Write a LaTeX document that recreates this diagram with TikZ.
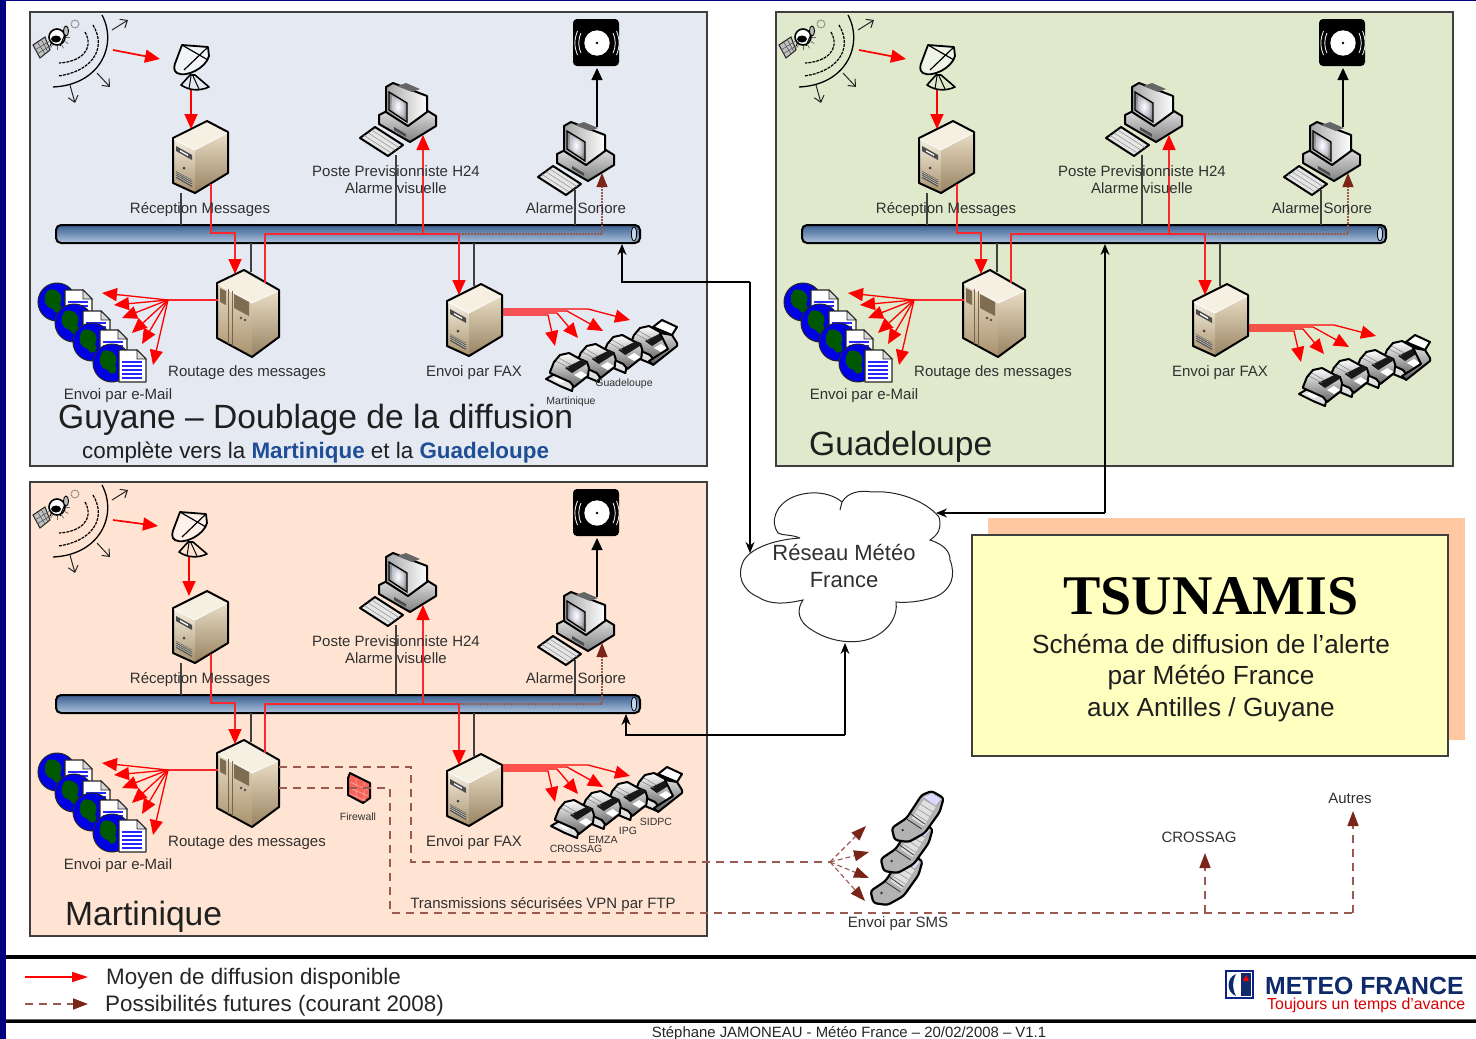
\documentclass[tikz,border=0pt]{standalone}
\usepackage{fontspec}
\setmainfont{Liberation Sans}
\newfontfamily\serifbold{Liberation Serif}
\usetikzlibrary{arrows.meta,shapes.geometric,calc}
\definecolor{navybar}{HTML}{000080}
\definecolor{panelA}{HTML}{E5E9F1}
\definecolor{panelB}{HTML}{E1E9CD}
\definecolor{panelC}{HTML}{FFE4D3}
\definecolor{panelline}{HTML}{3F3F3F}
\definecolor{redline}{HTML}{F8282E}
\definecolor{brownline}{HTML}{9A5A50}
\definecolor{brownhead}{HTML}{7A2518}
\definecolor{labelgray}{HTML}{303030}
\definecolor{titleblue}{HTML}{1F4E96}
\definecolor{shadowor}{HTML}{FFC8A0}
\definecolor{boxyellow}{HTML}{FFFFC0}
\definecolor{tanA}{HTML}{F6F0E2}
\definecolor{tanB}{HTML}{EADEC6}
\definecolor{tanC}{HTML}{A8916C}
\definecolor{logonavy}{HTML}{0F2A6B}
\definecolor{busA}{HTML}{3A5F90}
\definecolor{busB}{HTML}{6E93C0}
\definecolor{busC}{HTML}{AEC4DE}
\definecolor{busD}{HTML}{C4D6EA}
\tikzset{
  panelbox/.style={draw=panelline,line width=1.4pt},
  wire/.style={draw=black!75,line width=1.2pt},
  redwire/.style={draw=redline,line width=1.5pt},
  redarrow/.style={draw=red,line width=1.7pt,-{Triangle[length=15pt,width=13pt]}},
  redthin/.style={draw=red,line width=1.3pt,-{Triangle[length=15pt,width=13pt]}},
  blackarrow/.style={draw=black,line width=1.1pt,-{Triangle[length=12pt,width=11pt]}},
  netarrow/.style={draw=black,line width=1.1pt,-{Stealth[length=11pt,width=9pt]}},
  dashbrown/.style={draw=brownline,line width=1.6pt,dash pattern=on 8pt off 6pt},
  dasharrow/.style={draw=brownline,line width=1.6pt,dash pattern=on 8pt off 6pt,-{Triangle[length=15pt,width=11pt,color=brownhead,fill=brownhead]}},
  dottedarrow/.style={draw=brownline,line width=1.2pt,dash pattern=on 2pt off 1pt,-{Triangle[length=14pt,width=11pt,color=brownhead,fill=brownhead]}},
  barb/.style={draw=black!85,line width=1pt,-{Straight Barb[length=6pt,width=10pt]}},
  lab/.style={text=labelgray,inner sep=0pt,anchor=base,font=\fontsize{15}{17}\selectfont,align=center},
  smalllab/.style={text=labelgray,inner sep=0pt,font=\fontsize{10.5}{12}\selectfont,align=center},
  bigtitle/.style={text=black!88,inner sep=0pt,anchor=west,font=\fontsize{33.6}{38}\selectfont},
  blk/.style={draw=black,line width=2pt,line join=round},
  pics/towersrv/.style={code={
    \fill[tanA] (0,17)--(34,0)--(55,11)--(22,29)--cycle;
    \shade[top color=tanA,bottom color=tanC] (0,17)--(22,29)--(22,72)--(0,62)--cycle;
    \shade[top color=tanB,bottom color=tanC!90!black] (22,29)--(55,11)--(55,52)--(22,72)--cycle;
    \draw[blk] (0,17)--(34,0)--(55,11)--(55,52)--(22,72)--(0,62)--cycle;
    \draw[white,line width=.8pt] (1,18)--(22,29)--(54,12);
    \fill[black!70] (3,25)--(19,34)--(19,39)--(3,30)--cycle;
    \fill[white] (7,29)--(15,33.5)--(15,35)--(7,30.5)--cycle;
    \fill[black!75] (11,47) circle (1.5);
    \fill[black!65] (3,50)--(19,59)--(19,66)--(3,57)--cycle;
    \foreach \k in {1,3,5}{\draw[tanB,line width=.4pt] (3,50+\k)--(19,59+\k);}
  }},
  pics/bigsrv/.style={code={
    \fill[tanA] (0,13)--(27,0)--(62,20)--(35,33)--cycle;
    \shade[top color=tanB,bottom color=tanC] (0,13)--(35,33)--(35,87)--(0,68)--cycle;
    \shade[top color=tanB,bottom color=tanC!90!black] (35,33)--(62,20)--(62,67)--(35,87)--cycle;
    \draw[blk] (0,13)--(27,0)--(62,20)--(62,67)--(35,87)--(0,68)--cycle;
    \draw[white,line width=.8pt] (1,14)--(35,33)--(61,21);
    \draw[tanC!70!black,line width=.6pt] (11,19)--(11,74) (15,21)--(15,76);
    \fill[tanC!75!black] (3,18)--(9,21)--(9,35)--(3,32)--cycle;
    \fill[tanC!75!black] (17,24)--(32,32)--(32,46)--(17,38)--cycle;
    \fill[black!70] (24,48) circle (1.4) (28,50) circle (1.4);
  }},
  pics/workst/.style={code={
    \fill[black!10,draw=black,line width=2pt,line join=round] (0,55)--(15,44)--(43,62)--(28,73)--cycle;
    \foreach \k in {.25,.5,.75}{\draw[black!45,line width=.5pt] ($(0,55)!\k!(15,44)$)--($(28,73)!\k!(43,62)$);}
    \shade[top color=white,bottom color=black!50,draw=black,line width=2pt,line join=round] (19,32)--(19,41)--(50,59)--(76,43)--(76,33)--(50,17)--cycle;
    \fill[black!70] (34,44)--(46,51)--(46,54)--(34,47)--cycle;
    \shade[left color=black!35,right color=white,draw=black,line width=2pt,line join=round] (26,4)--(33,0)--(67,13)--(67,29)--(48,43)--(26,29)--cycle;
    \fill[black!60] (37,3)--(52,9)--(60,6)--(46,0)--cycle;
    \shade[inner color=white,outer color=black!45,draw=black,line width=1.3pt] (29,9)--(47,20)--(47,39)--(29,27)--cycle;
    \shade[inner color=white,outer color=blue!25!black!25] (32,13)--(44,21)--(44,34)--(32,26)--cycle;
  }},
  pics/globedoc/.style={code={
    \fill[blue!90!black,draw=black!85,line width=1pt] (0,0) circle (19);
    \fill[green!35!black] (-9,-12) .. controls (0,-15) and (8,-6) .. (3,2) .. controls (8,9) and (-1,15) .. (-4,7) .. controls (-14,5) and (-14,-6) .. (-9,-12)--cycle;
    \fill[green!35!black] (6,9) .. controls (14,6) and (16,13) .. (8,17)--cycle;
  }},
  pics/docfront/.style={code={
    \fill[white,draw=black!85,line width=1.4pt,line join=round] (0,0)--(18,0)--(27,9)--(27,32)--(0,32)--cycle;
    \fill[black!15,draw=black!85,line width=.8pt] (18,0)--(18,9)--(27,9)--cycle;
    \foreach \k in {12,16,20,24,28}{\draw[blue!85!white,line width=1.2pt] (3,\k)--(23,\k);}
  }},
  pics/faxunit/.style={code={
    \fill[black!12,draw=black,line width=2pt,line join=round] (-4,19)--(6,13)--(24,22)--(22,31)--(10,26)--cycle;
    \fill[white] (3,19)--(10,16)--(18,20)--(11,23)--cycle;
    \shade[top color=white,bottom color=black!60,draw=black,line width=2pt,line join=round] (0,12)--(4,2)--(10,-5)--(19,-7)--(30,-1)--(37,2)--(39,8)--(38,16)--(24,27)--(20,22)--(0,13)--cycle;
    \fill[black!90] (15,8)--(33,-1)--(38,3)--(22,13)--cycle;
    \fill[white] (24,15)--(31,11)--(37,15)--(31,19)--cycle;
    \draw[black!50,line width=.5pt] (6,1)--(19,8) (9,-2)--(21,5);
  }},
  pics/faxroll/.style={code={
    \shade[top color=black!15,bottom color=black!65,draw=black,line width=2pt,line join=round] (30,0)--(42,2)--(47,10)--(47,13)--(23,32)--(19,28)--(38,16)--cycle;
    \fill[white,draw=black,line width=2pt,line join=round] (23,-6)--(32,-13)--(47,-6)--(42,2)--cycle;
  }},
  pics/phoneunit/.style={code={
    \fill[black!30,draw=black,line width=2.2pt,line join=round,rounded corners=3pt] (0,37)--(15,27)--(30,4)--(40,0)--(52,7)--(48,21)--(33,42)--(17,51)--(3,49)--cycle;
    \fill[black!12] (20,27)--(32,9)--(44,16)--(32,35)--cycle;
    \foreach \k in {.25,.5,.75}{\draw[black!45,line width=.5pt] ($(20,27)!\k!(32,9)$)--($(32,35)!\k!(44,16)$);}
    \draw[black!80,line width=.8pt] (15,28)--(30,38) (19,23)--(33,33);
    \fill[black!80] (11,39) circle (1.3);
    \fill[blue!14!white,draw=black!40,line width=.4pt] (31,6)--(40,2)--(50,8)--(44,15)--cycle;
  }},
}
\newcommand{\SiteShared}[5]{%
\begin{scope}[shift={#2},name prefix=#1-]
  % coordinates
  \coordinate (recvdown) at (181,193); \coordinate (recvbus) at (181,225);
  \coordinate (pcAdown) at (396,155); \coordinate (pcAbus) at (396,225);
  \coordinate (pcBdown) at (575,190); \coordinate (pcBbus) at (575,225);
  \coordinate (bigtop) at (251,272); \coordinate (bigbus) at (251,243);
  \coordinate (faxtop) at (474,286); \coordinate (faxbus) at (474,243);
  \coordinate (recvred) at (211,184); \coordinate (kneeA) at (211,233); \coordinate (kneeB) at (235,233);
  \coordinate (bigtip) at (235,274);
  \coordinate (bigred) at (265,283); \coordinate (kneeC) at (265,234);
  \coordinate (branchpc) at (423,234); \coordinate (pctip) at (423,135);
  \coordinate (branchfax) at (459,234); \coordinate (faxtip) at (459,295);
  \coordinate (kneeD) at (602,234); \coordinate (soundtip) at (602,173);
  \coordinate (spkbase) at (597,127); \coordinate (spktip) at (597,68);
  \coordinate (fanhub) at (168,300); \coordinate (bigleft) at (218,300);
  % bus
  \shade[top color=busA,middle color=busB,bottom color=busC,draw=black,line width=2pt,rounded corners=5pt]
    (56,225) rectangle (640,243);
  \fill[busD,draw=black,line width=.8pt] (634,234) ellipse (2.6 and 7);
  \draw[wire] (recvdown)--(recvbus) (pcAdown)--(pcAbus) (pcBdown)--(pcBbus) (bigtop)--(bigbus) (faxtop)--(faxbus);
  % satellite
  \fill[black!25,draw=black!85,line width=1pt] (33,45)--(45,37)--(50,50)--(40,58)--cycle;
  \draw[black!70,line width=.5pt] (37,41)--(45,54) (41,39)--(48,52) (35,50)--(48,42) (37,54)--(50,46);
  \fill[white,draw=black,line width=1.6pt] (57,37) circle (8);
  \fill[black] (56,39) ellipse (5 and 3.5);
  \fill[black!25,draw=black,line width=.9pt] (66,31) ellipse (2.5 and 5);
  \draw[black,line width=1pt] (50,46)--(52,42) (60,46)--(65,34);
  \draw[black!55,line width=1pt,dash pattern=on 1pt off .7pt] (75,24) circle (4);
  \foreach \a in {90,120,150,60,30,0}{\draw[black!60,line width=.7pt] (57,37)++(\a:13)--++(\a:-4);}
  \draw[black,line width=1.3pt] (102,15) .. controls (118,45) and (100,85) .. (53,87);
  \draw[black,line width=1.2pt,dash pattern=on 3pt off 1pt] (93,25) .. controls (108,50) and (90,72) .. (58,76);
  \draw[black,line width=1.2pt,dash pattern=on 3pt off 1pt] (85,32) .. controls (95,50) and (80,62) .. (59,63);
  \coordinate (satA) at (112,30); \coordinate (satAe) at (128,20);
  \coordinate (satB) at (97,73); \coordinate (satBe) at (110,87);
  \coordinate (satC) at (70,85); \coordinate (satCe) at (75,103);
  \draw[barb] (satA)--(satAe); \draw[barb] (satB)--(satBe); \draw[barb] (satC)--(satCe);
  \coordinate (satout) at (113,50);
  % dish
  \begin{scope}[shift={#3}]
    \coordinate (dishin) at (160,59);
    \coordinate (dishout) at (191,90);
    \coordinate (dishtip) at (191,129);
    \draw[black,line width=1.8pt,line join=round,fill=white,fill opacity=.5] (182,45)--(208,47)--(209,56) .. controls (206,68) and (186,78) .. (177,73) .. controls (173,71) and (174,65) .. (176,61)--cycle;
    \draw[black,line width=1.2pt] (182,45)--(208,60) (208,47)--(184,70);
    \draw[black,line width=1.6pt,line join=round] (190,75)--(181,85) .. controls (190,91) and (200,91) .. (209,87)--(195,75)--cycle;
    \draw[black,line width=1pt] (191,76)--(189,89) (193,76)--(199,89);
  \end{scope}
  % speaker
  \fill[black,rounded corners=4pt] (573,19) rectangle (619,66);
  \fill[white] (597,43) circle (12.7);
  \fill[black] (597,43) circle (1.3);
  \draw[white,line width=.8pt] (581,33) .. controls (578,40) and (578,46) .. (581,53) (613,33) .. controls (616,40) and (616,46) .. (613,53)
     (577.5,31) .. controls (574,40) and (574,46) .. (577.5,55) (616.5,31) .. controls (620,40) and (620,46) .. (616.5,55);
  % servers and stations
  \pic at (173,121) {towersrv};
  \pic at (447,284) {towersrv};
  \pic at (217,270) {bigsrv};
  \pic at (360,83) {workst};
  \pic at (538,122) {workst};
  % globes and documents
  \pic at (57,302) {globedoc}; \pic at (65,290) {docfront};
  \pic at (74,323) {globedoc}; \pic at (83,311) {docfront};
  \pic at (92,342) {globedoc}; \pic at (100,330) {docfront};
  \pic at (112,363) {globedoc}; \pic at (119,350) {docfront};
  % faxes
  \begin{scope}[shift={#4}]
    \pic at (630,333) {faxunit}; \pic at (630,333) {faxroll};
    \pic at (603.3,342) {faxunit};
    \pic at (576.7,351) {faxunit};
    \pic at (550,360) {faxunit};
  \end{scope}
  % connectors
  \draw[redarrow] (satout)--(dishin);
  \draw[redarrow] (dishout)--(dishtip);
  \draw[redwire,-{Triangle[length=15pt,width=13pt,color=red,fill=red]}] (recvred)--(kneeA)--(kneeB)--(bigtip);
  \draw[redwire] (bigred)--(kneeC)--(branchfax);
  \draw[redwire,-{Triangle[length=15pt,width=13pt,color=red,fill=red]}] (branchpc)--(pctip);
  \draw[redwire,-{Triangle[length=15pt,width=13pt,color=red,fill=red]}] (branchfax)--(faxtip);
  \draw[dottedarrow] (branchfax)--(kneeD)--(soundtip);
  \draw[blackarrow] (spkbase)--(spktip);
  \draw[redwire] (bigleft)--(fanhub);
  \foreach \ex/\ey in {102/293,114/305,122/318,132/333,142/344,153/365}{
    \draw[redthin] (fanhub)--(\ex,\ey);}
  \begin{scope}[shift={(0,#5)}]
    \coordinate (faxoutA) at (503,309); \coordinate (faxoutB) at (503,311);
    \coordinate (faxoutC) at (503,313); \coordinate (faxoutD) at (503,315);
    \draw[redthin] (faxoutA)--(588,309)--(630,320);
    \draw[redthin] (faxoutB)--(567,311)--(603,331);
    \draw[redthin] (faxoutC)--(557,313)--(578,338);
    \draw[redthin] (faxoutD)--(548,315)--(555,346);
  \end{scope}
  % labels
  \node[lab] (lrecv) at (200,213) {Réception Messages};
  \node[lab,anchor=center] (lpost) at (396,179.5) {Poste Previsionniste H24\\Alarme visuelle};
  \node[lab] (lson) at (576,213) {Alarme Sonore};
  \node[lab] (lrout) at (247,376) {Routage des messages};
  \node[lab] (lfax) at (474,376) {Envoi par FAX};
  \node[lab] (lmail) at (118,399) {Envoi par e-Mail};
  \coordinate (busport) at (622,244);
\end{scope}}
\begin{document}
\begin{tikzpicture}[x=1pt,y=-1pt]
\useasboundingbox (0,0) rectangle (1476,1039);
\fill[white] (0,0) rectangle (1476,1039);
\fill[navybar] (0,0) rectangle (5.5,1039);
\fill[navybar] (0,0) rectangle (1476,1.2);
% panels
\filldraw[panelbox,fill=panelA] (30,12) rectangle (707,466);
\filldraw[panelbox,fill=panelB] (776,12) rectangle (1453,466);
\filldraw[panelbox,fill=panelC] (30,482) rectangle (707,936);
% sites
\SiteShared{gy}{(0,0)}{(0,0)}{(0,0)}{0}
\SiteShared{gd}{(746,0)}{(0,0)}{(7,15)}{16}
\SiteShared{mq}{(0,470)}{(-2,-3)}{(5,-23)}{-14}
% titles
\node[bigtitle] (tgy) at (58,420) {Guyane – Doublage de la diffusion};
\node[inner sep=0pt,anchor=west,text=black!88,font=\fontsize{22.4}{26}\selectfont] (tgy2) at (82,453)
  {complète vers la \textcolor{titleblue}{\textbf{Martinique}} et la \textcolor{titleblue}{\textbf{Guadeloupe}}};
\node[bigtitle] (tgd) at (809,447) {Guadeloupe};
\node[bigtitle] (tmq) at (65,917) {Martinique};
\node[smalllab] (lgfax) at (624,384) {Guadeloupe};
\node[smalllab] (lmfax) at (571,402) {Martinique};
\node[smalllab] (fsidpc) at (656,822) {SIDPC};
\node[smalllab] (fipg) at (628,831) {IPG};
\node[smalllab] (femza) at (603,840) {EMZA};
\node[smalllab] (fcross) at (576,849) {CROSSAG};
% cloud
\coordinate (cloudL) at (750,553);
\coordinate (cloudR) at (936,513);
\coordinate (cloudB) at (845,643);
\draw[black!85,line width=1pt,fill=white] (800,538) .. controls (790,534) and (784,536) .. (778,533)
  .. controls (770,522) and (775,505) .. (793,497) .. controls (810,490) and (830,492) .. (842,502)
  .. controls (848,492) and (860,490) .. (872,492) .. controls (895,490) and (925,500) .. (939,517)
  .. controls (942,528) and (938,535) .. (930,540) .. controls (945,545) and (950,552) .. (950,560)
  .. controls (956,575) and (952,590) .. (935,597) .. controls (920,602) and (905,603) .. (896,602)
  .. controls (898,615) and (890,630) .. (872,638) .. controls (855,645) and (830,642) .. (812,630)
  .. controls (798,622) and (796,610) .. (803,600) .. controls (785,604) and (770,605) .. (758,597)
  .. controls (742,590) and (736,575) .. (744,560) .. controls (750,550) and (770,540) .. (800,538);
\draw[black!85,line width=1pt] (842,502)--(840,510);
\node[text=labelgray,inner sep=0pt,align=center,font=\fontsize{22}{26.5}\selectfont] (cloudtxt) at (844,566) {Réseau Météo\\France};
% network arrows
\coordinate (corA) at (750,282);
\coordinate (corAb) at (622,282);
\draw[netarrow] (corA)--(corAb)--(gy-busport);
\draw[netarrow] (corA)--(cloudL);
\coordinate (corB) at (1105,513);
\coordinate (gdbus) at (1105,244);
\draw[netarrow] (corB)--(cloudR);
\draw[netarrow] (corB)--(gdbus);
\coordinate (corC) at (845,735);
\coordinate (corCb) at (626,735);
\coordinate (mqbus) at (626,714);
\draw[netarrow] (corC)--(cloudB);
\draw[netarrow] (corC)--(corCb)--(mqbus);
% firewall
\fill[red!55!tanB,draw=black,line width=2pt,line join=round] (350,773)--(370,783)--(370,798)--(363,803)--(348,795)--(348,778)--cycle;
\draw[white!70!red,line width=.5pt] (350,782)--(368,790) (350,788)--(368,796) (350,794)--(366,801) (356,778)--(356,797) (364,782)--(364,800);
\node[smalllab] (lfw) at (358,817) {Firewall};
% dashed routes
\coordinate (dA) at (279,767); \coordinate (dAa) at (411,767); \coordinate (dAb) at (411,862); \coordinate (smshub) at (830,862);
\draw[dashbrown] (dA)--(dAa)--(dAb)--(smshub);
\coordinate (dB) at (279,788); \coordinate (dBa) at (390,788); \coordinate (dBb) at (390,913); \coordinate (dBc) at (1353,913); \coordinate (autres) at (1353,811);
\coordinate (dBd) at (1205,913); \coordinate (crossag) at (1205,853);
\draw[dashbrown] (dB)--(dBa)--(dBb)--(dBc);
\draw[dasharrow] (dBc)--(autres);
\draw[dasharrow] (dBd)--(crossag);
\foreach \ex/\ey in {866/826,869/852,869/878,865/901}{\draw[dasharrow,line width=1.1pt,dash pattern=on 5pt off 3pt] (smshub)--(\ex,\ey);}
\node[lab] (lvpn) at (543,908) {Transmissions sécurisées VPN par FTP};
% phones
\pic at (870.5,854) {phoneunit};
\pic at (880.7,822) {phoneunit};
\pic at (891.7,791) {phoneunit};
\node[lab] (lsms) at (898,927) {Envoi par SMS};
\node[lab] (lcr) at (1199,842) {CROSSAG};
\node[lab] (laut) at (1350,803) {Autres};
% title box
\fill[shadowor] (988,518) rectangle (1465,740);
\filldraw[fill=boxyellow,draw=panelline,line width=1.3pt] (972,535) rectangle (1448,756);
\node[inner sep=0pt,text=black,font=\fontsize{56}{60}\selectfont\serifbold\bfseries] (ttl) at (1211,596) {TSUNAMIS};
\node[inner sep=0pt,text=black!88,align=center,font=\fontsize{26.2}{31.5}\selectfont] (ttl2) at (1211,678) {Schéma de diffusion de l’alerte\\par Météo France\\aux Antilles / Guyane};
% footer
\fill[black] (6,955) rectangle (1476,959);
\fill[black!60] (6,1018.5) rectangle (1476,1020);
\fill[black] (6,1020) rectangle (1476,1023);
\coordinate (legA) at (25,977); \coordinate (legAe) at (88,977);
\coordinate (legB) at (25,1004); \coordinate (legBe) at (88,1004);
\draw[draw=red,line width=1.3pt,-{Triangle[length=16pt,width=10pt]}] (legA)--(legAe);
\draw[dasharrow] (legB)--(legBe);
\node[inner sep=0pt,anchor=west,text=black!85,font=\fontsize{22.4}{26}\selectfont] (lgA) at (106,979) {Moyen de diffusion disponible};
\node[inner sep=0pt,anchor=west,text=black!85,font=\fontsize{22.4}{26}\selectfont] (lgB) at (105,1006) {Possibilités futures (courant 2008)};
\node[inner sep=0pt,text=black!85,font=\fontsize{14.9}{17}\selectfont] (foot) at (849,1033.5) {Stéphane JAMONEAU - Météo France – 20/02/2008 – V1.1};
% logo
\fill[white,draw=logonavy!80!blue,line width=1.2pt] (1226,971) rectangle (1253,998);
\fill[logonavy] (1236,974) .. controls (1226,978) and (1226,992) .. (1236,996) .. controls (1232,988) and (1232,982) .. (1236,974)--cycle;
\fill[logonavy] (1241,973) rectangle (1251,996);
\fill[red] (1246,975)--(1243,981)--(1249,981)--cycle;
\node[inner sep=0pt,anchor=west,text=logonavy,font=\fontsize{24.8}{28}\selectfont\bfseries] (mf) at (1265,986) {METEO FRANCE};
\node[inner sep=0pt,anchor=west,text=red!85!black,font=\fontsize{15.9}{18}\selectfont] (mf2) at (1267,1005) {Toujours un temps d’avance};
\end{tikzpicture}
\end{document}
